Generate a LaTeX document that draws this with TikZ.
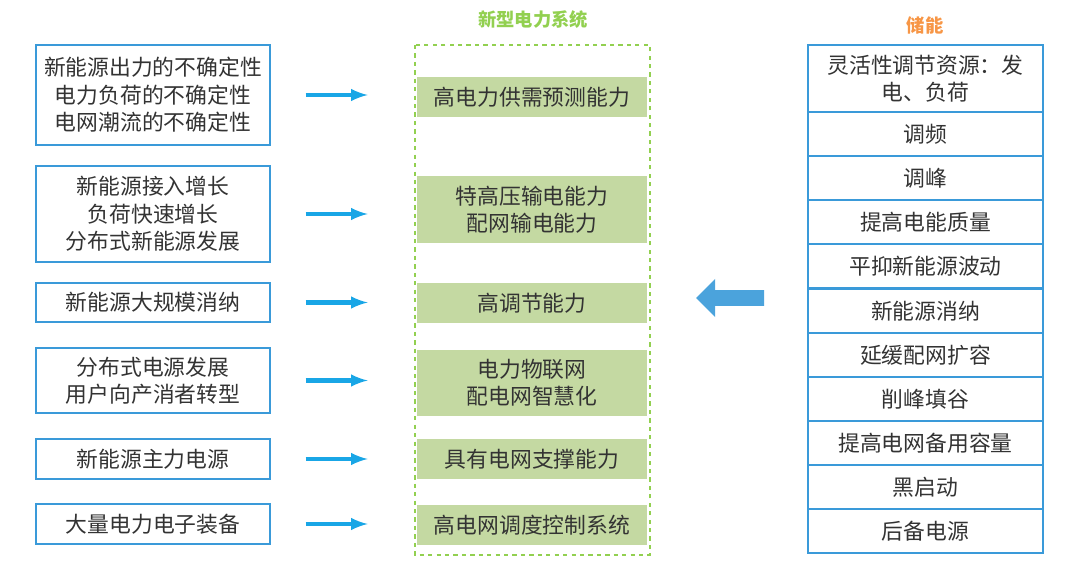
\documentclass[tikz,border=0pt]{standalone}
\usepackage{fontspec}
\setmainfont{Noto Sans CJK SC}
\usetikzlibrary{shapes.arrows}
\definecolor{boxblue}{HTML}{3A9AD9}
\definecolor{arrowcyan}{HTML}{19A6E6}
\definecolor{sysgreen}{HTML}{92D050}
\definecolor{fillgreen}{HTML}{C4D9A2}
\definecolor{storeorange}{HTML}{F79646}
\definecolor{bigarrow}{HTML}{4BA3DC}
\definecolor{textgray}{HTML}{333333}

\begin{document}
\begin{tikzpicture}[x=0.025cm, y=-0.025cm, every node/.style={align=center, text=textgray, font=\fontsize{15.5}{19.5}\selectfont}]
\useasboundingbox (0,0) rectangle (1080,572);
\tikzset{
  leftbox/.style={draw=boxblue, thick, minimum width=5.85cm, inner sep=1pt},
  midbox/.style={fill=fillgreen, minimum width=5.75cm, inner sep=1pt},
  rightbox/.style={draw=boxblue, thick, minimum width=5.875cm, minimum height=1.1cm, inner sep=1pt},
  feed/.style={->, >=latex, arrowcyan, line width=3pt}
}
% Titles
\node[text=sysgreen, font=\fontsize{13}{15}\selectfont\bfseries] (systitle) at (533,20) {新型电力系统};
\node[text=storeorange, font=\fontsize{13}{15}\selectfont\bfseries] (storetitle) at (925,25) {储能};

% Dashed frame of the new system
\draw[sysgreen, dashed, thick] (415,45) rectangle (650,555);

% Left side: drivers
\node[leftbox, minimum height=2.5cm] (l1) at (153,95) {新能源出力的不确定性\\电力负荷的不确定性\\电网潮流的不确定性};
\node[leftbox, minimum height=2.4cm] (l2) at (153,214) {新能源接入增长\\负荷快速增长\\分布式新能源发展};
\node[leftbox, minimum height=0.975cm] (l3) at (153,302.5) {新能源大规模消纳};
\node[leftbox, minimum height=1.625cm] (l4) at (153,380.5) {分布式电源发展\\用户向产消者转型};
\node[leftbox, minimum height=1.0cm] (l5) at (153,459) {新能源主力电源};
\node[leftbox, minimum height=1.0cm] (l6) at (153,524) {大量电力电子装备};

% Middle: required abilities
\node[midbox, minimum height=1.0cm] (m1) at (532,97) {高电力供需预测能力};
\node[midbox, minimum height=1.675cm] (m2) at (532,209.5) {特高压输电能力\\配网输电能力};
\node[midbox, minimum height=1.0cm] (m3) at (532,303) {高调节能力};
\node[midbox, minimum height=1.65cm] (m4) at (532,383) {电力物联网\\配电网智慧化};
\node[midbox, minimum height=1.0cm] (m5) at (532,459) {具有电网支撑能力};
\node[midbox, minimum height=1.0cm] (m6) at (532,525) {高电网调度控制系统};

% Arrows left to middle
\foreach \i in {1,...,6}
  \draw[feed] ([xshift=0.875cm]l\i.east) -- ++(1.55cm,0);

% Right side: storage functions
\node[rightbox, minimum height=1.675cm] (r1) at (925.5,78.5) {灵活性调节资源：发\\电、负荷};
\node[rightbox] (r2) at (925.5,134) {调频};
\node[rightbox] (r3) at (925.5,178) {调峰};
\node[rightbox] (r4) at (925.5,222) {提高电能质量};
\node[rightbox] (r5) at (925.5,266) {平抑新能源波动};
\node[rightbox] (r6) at (925.5,311) {新能源消纳};
\node[rightbox] (r7) at (925.5,355) {延缓配网扩容};
\node[rightbox] (r8) at (925.5,399) {削峰填谷};
\node[rightbox] (r9) at (925.5,443) {提高电网备用容量};
\node[rightbox] (r10) at (925.5,487) {黑启动};
\node[rightbox] (r11) at (925.5,531) {后备电源};

% Big arrow toward the system
\node[single arrow, fill=bigarrow, shape border rotate=180, minimum height=1.7cm, minimum width=0.95cm, single arrow head extend=0.01cm, inner sep=0pt] (bigarrow) at (734,298) {};
\end{tikzpicture}
\end{document}
